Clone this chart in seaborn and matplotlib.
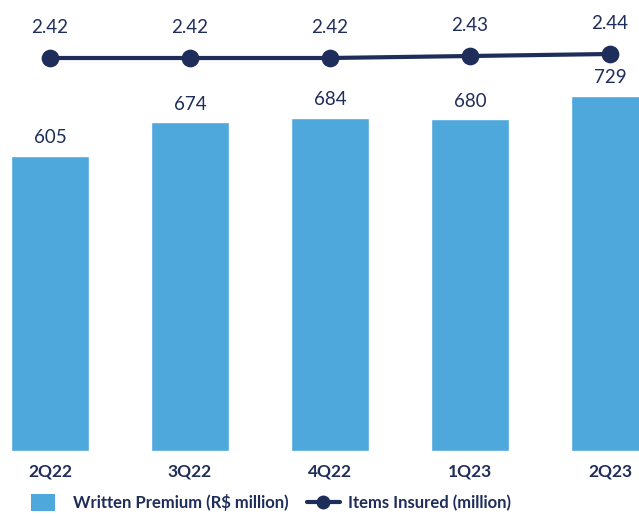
import matplotlib
matplotlib.use("Agg")
import matplotlib.pyplot as plt
import seaborn as sns
import pandas as pd
from matplotlib.lines import Line2D
from matplotlib.patches import Patch, Rectangle
from matplotlib.legend_handler import HandlerPatch

quarters = ["2Q22", "3Q22", "4Q22", "1Q23", "2Q23"]
premium = [605, 674, 684, 680, 729]
items = [2.42, 2.42, 2.42, 2.43, 2.44]
premium_labels = ["605", "674", "684", "680", "729"]
items_labels = ["2.42", "2.42", "2.42", "2.43", "2.44"]

BAR = "#4FA8DC"
NAVY = "#1F2D5A"

sns.set_theme(style="white")
plt.rcParams["font.family"] = ["Lato", "DejaVu Sans"]

df = pd.DataFrame({"quarter": quarters, "premium": premium, "items": items})

fig = plt.figure(figsize=(6.39, 5.16), dpi=100)
ax = fig.add_axes([0, (516 - 451) / 516, 1, 451 / 516])

sns.barplot(data=df, x="quarter", y="premium", color=BAR, width=0.557,
            saturation=1, ax=ax)
ax.set_xlim(-50 / 140, 4 + 29 / 140)
ax.set_ylim(0, 925)
for i, (v, lab) in enumerate(zip(premium, premium_labels)):
    ax.annotate(lab, (i, v), xytext=(0, 7), textcoords="offset points",
                ha="center", va="bottom", fontsize=13.5, color=NAVY)

ax2 = ax.twinx()
sns.pointplot(data=df, x="quarter", y="items", color=NAVY, markers="o",
              linestyles="-", markersize=10.5, linewidth=3, ax=ax2)
ax2.set_ylim(0.455, 0.455 + 2.255)
ax2.set_xlim(-50 / 140, 4 + 29 / 140)
for i, (v, lab) in enumerate(zip(items, items_labels)):
    ax2.annotate(lab, (i, v), xytext=(0, 16), textcoords="offset points",
                 ha="center", va="bottom", fontsize=13.5, color=NAVY)

for a in (ax, ax2):
    a.set_xlabel("")
    a.set_ylabel("")
    a.set_yticks([])
    for s in a.spines.values():
        s.set_visible(False)
ax.tick_params(axis="x", length=0, pad=9)
for t in ax.get_xticklabels():
    t.set_fontweight("bold")
    t.set_fontsize(12.5)
    t.set_color(NAVY)


def small_patch(legend, orig_handle, xdescent, ydescent, width, height, fontsize):
    return Rectangle((-xdescent, -ydescent - 0.1 * height), width * 0.72, height * 1.2)


handles = [
    Patch(facecolor=BAR, edgecolor="none", label="Written Premium (R$ million)"),
    Line2D([0], [0], color=NAVY, lw=3, marker="o", markersize=9,
           label="Items Insured (million)"),
]
leg = fig.legend(handles=handles, loc="lower left", bbox_to_anchor=(0.025, -0.02),
                 ncol=2, frameon=False, prop={"weight": "bold", "size": 12},
                 handlelength=2.0, handleheight=0.9, columnspacing=1.1,
                 handletextpad=0.5,
                 handler_map={Patch: HandlerPatch(patch_func=small_patch)})
for t in leg.get_texts():
    t.set_color(NAVY)

fig.savefig("out.png", dpi=100)
